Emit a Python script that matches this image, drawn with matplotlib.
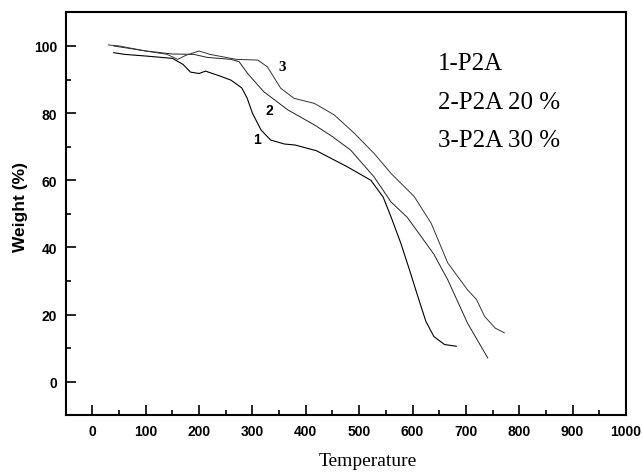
import matplotlib
matplotlib.use("Agg")
import matplotlib.pyplot as plt
from matplotlib.ticker import MultipleLocator

# curve 1 : P2A
t1 = [40, 60, 100, 150, 170, 184, 200, 212, 240, 260, 280, 290, 300, 316, 334, 360, 380,
      420, 478, 522, 545, 560, 578, 595, 610, 625, 640, 660, 682]
w1 = [98, 97.5, 97, 96.3, 94.5, 92.2, 91.8, 92.5, 91, 89.8, 87.5, 84.5, 80, 75, 72, 70.8, 70.5,
      68.8, 64, 60, 55, 49, 41.3, 33, 25.4, 18, 13.5, 11.1, 10.6]
# curve 2 : P2A 20 %
t2 = [40, 100, 150, 190, 215, 260, 275, 291, 321, 366, 416, 450, 484, 528, 545, 560,
      590, 616, 640, 666, 703, 741]
w2 = [100, 98.5, 97.6, 97.5, 96.6, 96, 95.3, 91.8, 86.4, 81, 76.5, 73, 69, 61, 57, 53.5,
      49, 43.3, 38, 30.4, 17.5, 7.1]
# curve 3 : P2A 30 %
t3 = [30, 50, 100, 140, 160, 175, 200, 220, 270, 310, 328, 353, 378, 416, 453, 491, 528,
      560, 603, 635, 666, 703, 720, 735, 755, 772]
w3 = [100.3, 100, 98.5, 97.5, 96, 97.2, 98.5, 97.5, 96, 95.8, 93.8, 87.4, 84.4, 82.9, 79.5,
      74, 68, 62, 55.2, 47.2, 35.4, 27.4, 24.5, 19.5, 16, 14.6]

legend_lines = ["1-P2A", "2-P2A 20 %", "3-P2A 30 %"]

fig = plt.figure(figsize=(6.42, 4.77), dpi=100)
ax = fig.add_axes([0.1023, 0.127, 0.8727, 0.845])

ax.plot(t1, w1, color="black", lw=0.8)
ax.plot(t2, w2, color="#222222", lw=0.7)
ax.plot(t3, w3, color="#333333", lw=0.7)

ax.set_xlim(-50, 1000)
ax.set_ylim(-10, 110)
ax.xaxis.set_major_locator(MultipleLocator(100))
ax.xaxis.set_minor_locator(MultipleLocator(50))
ax.yaxis.set_major_locator(MultipleLocator(20))
ax.yaxis.set_minor_locator(MultipleLocator(10))
ax.set_xticks(range(0, 1001, 100))
ax.set_yticks(range(0, 101, 20))
ax.tick_params(which="both", direction="in", top=False, right=False, width=1.2)
ax.tick_params(which="major", length=7, pad=6)
ax.tick_params(which="minor", length=3.5)
for lab in ax.get_xticklabels() + ax.get_yticklabels():
    lab.set_fontfamily("Liberation Sans")
    lab.set_fontweight("bold")
    lab.set_fontsize(10)
for s in ax.spines.values():
    s.set_linewidth(1.5)

ax.set_xlabel("Temperature", family="Liberation Serif", fontsize=14)
ax.xaxis.set_label_coords(0.54, -0.09)
ax.set_ylabel("Weight (%)", family="Liberation Sans", fontweight="bold", fontsize=12.5)
ax.yaxis.set_label_coords(-0.068, 0.52)

ax.text(308, 72.2, "1", family="Liberation Sans", fontweight="bold", fontsize=10,
        ha="center", va="center")
ax.text(331, 80.9, "2", family="Liberation Sans", fontweight="bold", fontsize=10,
        ha="center", va="center")
ax.text(356, 93.8, "3", family="Liberation Serif", fontweight="bold", fontsize=11,
        ha="center", va="center")

for i, s in enumerate(legend_lines):
    ax.text(647, [94.8, 83.4, 72][i], s, family="Liberation Serif", fontsize=18,
            ha="left", va="center")

fig.savefig("out.png", dpi=100)
